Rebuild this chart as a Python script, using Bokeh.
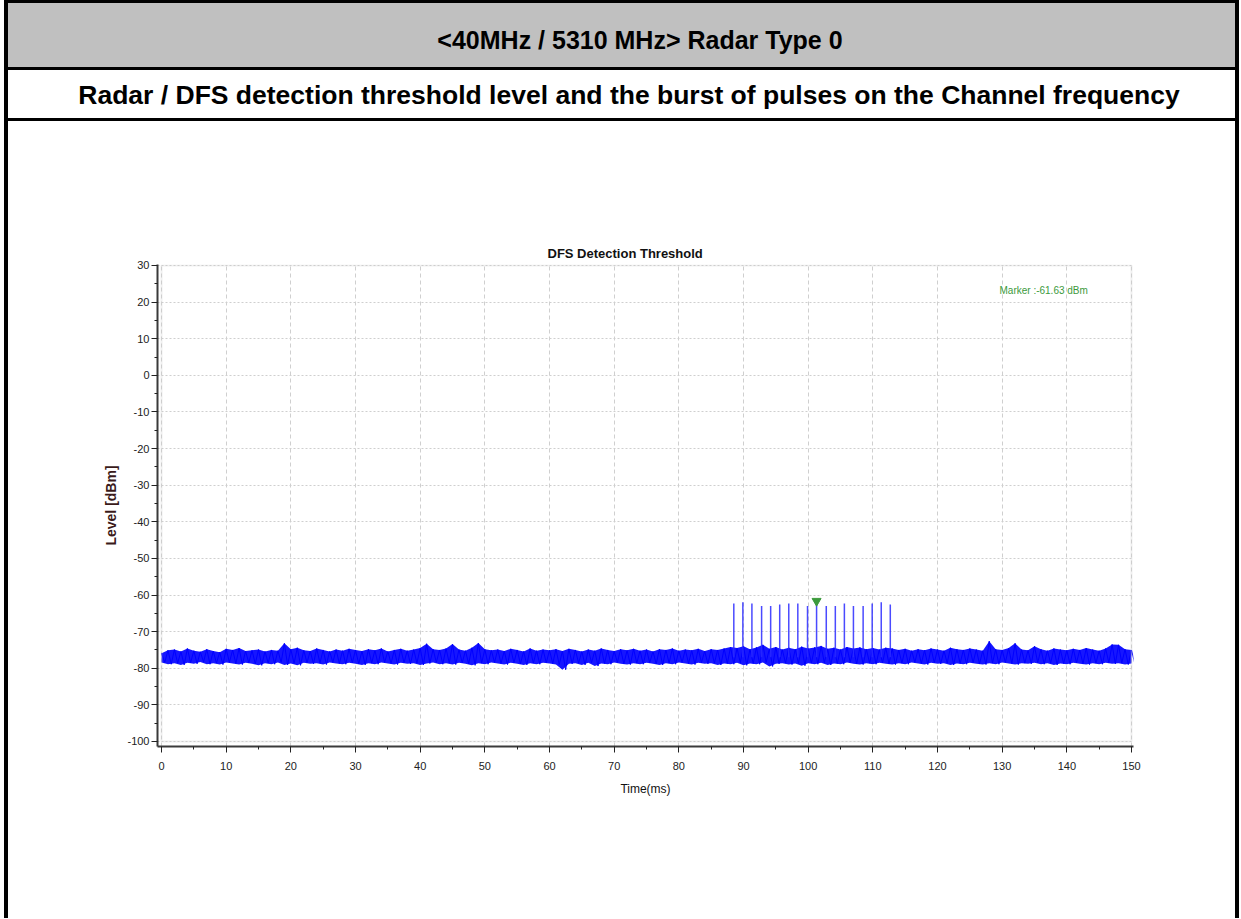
import html
from bokeh.plotting import figure
from bokeh.models import Label, FixedTicker, Range1d, ColumnDataSource, Div, BoxAnnotation
from bokeh.layouts import column, row
from bokeh.embed import file_html
from bokeh.resources import INLINE

# ---------------- data ----------------
header_title = "<40MHz / 5310 MHz> Radar Type 0"
row_title = "Radar / DFS detection threshold level and the burst of pulses on the Channel frequency"
chart_title = "DFS Detection Threshold"
x_label = "Time(ms)"
y_label = "Level [dBm]"
x_ticks = [0, 10, 20, 30, 40, 50, 60, 70, 80, 90, 100, 110, 120, 130, 140, 150]
y_ticks = [30, 20, 10, 0, -10, -20, -30, -40, -50, -60, -70, -80, -90, -100]

noise_time = list(range(0, 151))
noise_high = [
    -75.9, -75.1, -74.9, -75.4, -74.6, -75.2, -75.5, -74.8, -75.3, -75.6,
    -74.7, -75.0, -74.5, -75.3, -75.1, -74.9, -75.4, -75.0, -75.2, -73.2,
    -74.8, -74.4, -75.1, -75.3, -74.6, -75.0, -75.4, -74.9, -75.2, -74.7,
    -75.0, -75.3, -74.8, -75.1, -74.6, -75.4, -75.0, -74.7, -75.2, -74.9,
    -74.5, -73.3, -74.8, -75.0, -74.6, -73.4, -74.9, -75.2, -74.4, -73.1,
    -74.8, -75.1, -74.9, -75.3, -74.7, -75.0, -75.4, -74.6, -75.2, -74.9,
    -75.1, -74.8, -75.3, -74.7, -75.0, -75.4, -74.9, -75.2, -74.6, -75.0,
    -75.3, -74.8, -75.1, -74.7, -75.2, -74.9, -75.4, -74.8, -75.0, -74.6,
    -75.2, -74.9, -75.1, -74.7, -75.3, -74.8, -75.0, -74.6, -74.2, -74.5,
    -74.0, -74.8, -74.3, -73.6, -74.7, -74.2, -74.9, -74.4, -74.8, -74.1,
    -74.6, -74.3, -73.9, -74.7, -74.4, -74.9, -74.2, -74.6, -74.3, -74.8,
    -74.5, -74.9, -74.4, -74.6, -75.0, -74.7, -75.2, -74.8, -75.1, -74.6,
    -74.9, -75.2, -74.4, -74.8, -75.0, -74.6, -74.9, -75.2, -72.6, -74.8,
    -75.0, -74.5, -73.2, -74.9, -75.1, -74.0, -74.8, -75.2, -74.6, -74.9,
    -75.1, -74.7, -75.0, -74.5, -74.9, -75.2, -74.6, -73.5, -73.6, -74.8,
    -75.0,
]
noise_low = [
    -78.4, -78.9, -78.6, -79.1, -78.5, -78.8, -78.3, -78.9, -78.6, -79.0,
    -78.4, -78.7, -79.0, -78.5, -78.8, -79.2, -78.6, -78.9, -78.4, -79.1,
    -78.7, -79.2, -78.5, -78.8, -78.6, -79.0, -78.4, -78.7, -78.9, -78.5,
    -78.8, -79.1, -78.6, -78.9, -78.4, -78.7, -79.0, -78.5, -78.8, -78.6,
    -79.1, -78.7, -78.4, -78.9, -78.6, -79.0, -78.5, -78.8, -79.2, -78.6,
    -78.9, -78.4, -78.7, -79.0, -78.5, -78.8, -79.1, -78.6, -78.9, -78.5,
    -78.7, -79.0, -80.4, -78.8, -78.6, -79.1, -78.5, -79.4, -78.7, -78.9,
    -78.4, -78.8, -79.0, -78.6, -78.9, -78.5, -78.8, -79.1, -78.6, -78.9,
    -78.4, -78.7, -79.0, -78.5, -78.8, -78.6, -79.1, -78.7, -78.9, -78.5,
    -79.2, -78.7, -78.9, -78.4, -79.5, -78.8, -78.6, -79.0, -78.7, -79.3,
    -78.6, -78.9, -78.5, -79.1, -78.7, -78.9, -78.4, -78.8, -79.0, -78.6,
    -78.9, -78.5, -78.8, -79.0, -78.6, -78.9, -78.4, -78.7, -79.0, -78.5,
    -78.8, -78.6, -79.1, -78.7, -78.9, -78.5, -78.8, -79.0, -78.6, -78.9,
    -78.4, -78.7, -79.0, -78.6, -78.8, -78.5, -78.9, -78.6, -79.1, -78.7,
    -78.9, -78.5, -78.8, -79.0, -78.6, -78.9, -78.5, -78.8, -78.6, -79.0,
    -78.7,
]

pulse_time = [88.5, 89.9, 91.3, 92.8, 94.2, 95.6, 97.0, 98.4, 99.9,
              101.3, 102.8, 104.2, 105.6, 107.0, 108.5, 109.9, 111.3, 112.7]
pulse_level = [-62.3, -62.0, -62.3, -63.0, -63.0, -62.6, -62.3, -62.3, -63.0,
               -61.63, -63.0, -63.0, -62.3, -63.0, -63.0, -62.3, -62.0, -62.6]
noise_floor = -77.0

marker_time = 101.3
marker_level = -61.63

# ---------------- page geometry ----------------
PAGE_W = 1241
HEAD_H = 121
FIG_H = 797
LEFT_W = 8
RIGHT_W = 6
FIG_W = PAGE_W - LEFT_W - RIGHT_W
SANS = "Liberation Sans"

head_html = f"""
<div style="position:relative;width:{PAGE_W}px;height:{HEAD_H}px;margin:0;padding:0;overflow:hidden;">
  <div style="position:absolute;left:0;top:0;width:{PAGE_W}px;height:{HEAD_H}px;background:#ffffff;"></div>
  <div style="position:absolute;left:4px;top:0;width:1235px;height:{HEAD_H}px;background:#000000;"></div>
  <div style="position:absolute;left:8px;top:3px;width:1227px;height:64px;background:#c0c0c0;"></div>
  <div style="position:absolute;left:8px;top:70px;width:1227px;height:48px;background:#ffffff;"></div>
  <div style="position:absolute;left:0;top:24px;width:1280px;height:32px;line-height:32px;text-align:center;
       font-family:'{SANS}';font-weight:bold;font-size:25px;color:#000000;white-space:nowrap;">{html.escape(header_title)}</div>
  <div style="position:absolute;left:0;top:79px;width:1258px;height:32px;line-height:32px;text-align:center;
       font-family:'{SANS}';font-weight:bold;font-size:26.5px;color:#000000;white-space:nowrap;">{html.escape(row_title)}</div>
</div>
"""
head = Div(text=head_html, width=PAGE_W, height=HEAD_H, margin=0)

left_html = f"""<div style="position:relative;width:{LEFT_W}px;height:{FIG_H}px;">
<div style="position:absolute;left:4px;top:0;width:4px;height:{FIG_H}px;background:#000000;"></div></div>"""
right_html = f"""<div style="position:relative;width:{RIGHT_W}px;height:{FIG_H}px;">
<div style="position:absolute;left:0;top:0;width:4px;height:{FIG_H}px;background:#000000;"></div></div>"""
left_border = Div(text=left_html, width=LEFT_W, height=FIG_H, margin=0)
right_border = Div(text=right_html, width=RIGHT_W, height=FIG_H, margin=0)

# ---------------- figure ----------------
p = figure(width=FIG_W, height=FIG_H,
           x_range=Range1d(-0.62, 150.31), y_range=Range1d(-101.37, 30.27),
           output_backend="svg", toolbar_location=None,
           min_border_left=149, min_border_right=102,
           min_border_top=143, min_border_bottom=172, margin=0)
p.outline_line_color = None
p.background_fill_color = "white"
p.border_fill_color = "white"

p.title.text = chart_title
p.title.text_font = SANS
p.title.text_font_style = "bold"
p.title.text_font_size = "13px"
p.title.text_color = "#111111"
p.title.align = "left"
p.title.offset = 390
p.title.standoff = 7

# axes
p.xaxis.ticker = FixedTicker(ticks=x_ticks, minor_ticks=list(range(5, 150, 10)))
p.yaxis.ticker = FixedTicker(ticks=y_ticks, minor_ticks=list(range(-95, 30, 10)))
p.xaxis.major_label_overrides = {t: str(t) for t in x_ticks}
p.yaxis.major_label_overrides = {t: str(t) for t in y_ticks}
for ax in (p.xaxis[0], p.yaxis[0]):
    ax.axis_line_color = "#3a3a3a"
    ax.axis_line_width = 2
    ax.major_tick_line_color = "#222222"
    ax.minor_tick_line_color = "#222222"
    ax.major_tick_in = 0
    ax.minor_tick_in = 0
    ax.major_tick_out = 6
    ax.minor_tick_out = 3
    ax.major_label_text_font = SANS
    ax.major_label_text_font_size = "11px"
    ax.major_label_text_color = "#222222"
p.xaxis.major_label_standoff = 9
p.yaxis.major_label_standoff = 2
p.xaxis.axis_label = x_label
p.xaxis.axis_label_text_font = SANS
p.xaxis.axis_label_text_font_style = "normal"
p.xaxis.axis_label_text_font_size = "12px"
p.xaxis.axis_label_text_color = "#111111"
p.xaxis.axis_label_standoff = 9
p.yaxis.axis_label = y_label
p.yaxis.axis_label_text_font = SANS
p.yaxis.axis_label_text_font_style = "bold"
p.yaxis.axis_label_text_font_size = "14px"
p.yaxis.axis_label_text_color = "#3a1a1a"
p.yaxis.axis_label_standoff = 5

# grid
p.xgrid.ticker = FixedTicker(ticks=x_ticks)
p.ygrid.ticker = FixedTicker(ticks=y_ticks)
p.xgrid.grid_line_color = "#cfcfcf"
p.xgrid.grid_line_dash = "4 3"
p.ygrid.grid_line_color = "#cfcfcf"
p.ygrid.grid_line_dash = "2 2"

# light grey border around data area
p.add_layout(BoxAnnotation(left=x_ticks[0], right=x_ticks[-1], bottom=y_ticks[-1], top=y_ticks[0],
                           fill_color=None, line_color="#cccccc", line_width=2))

# noise trace
xs, ys = [], []
for t, hi, lo in zip(noise_time, noise_high, noise_low):
    xs += [t, t + 0.5]
    ys += [hi, lo]
p.varea(x=noise_time, y1=noise_low, y2=noise_high, fill_color="#0a0aff", fill_alpha=0.95)
p.line(xs, ys, line_color="#0000ff", line_width=1.0)

# pulses
src = ColumnDataSource(dict(x=pulse_time, y0=[noise_floor] * len(pulse_time), y1=pulse_level))
p.segment(x0="x", y0="y0", x1="x", y1="y1", source=src, line_color="#2a2aff",
          line_width=1.5, line_alpha=0.85)

# marker
p.scatter([marker_time], [marker_level], marker="inverted_triangle", size=9,
          fill_color="#3c9a3c", line_color="#3c9a3c")
p.add_layout(Label(x=991, y=169, x_units="canvas", y_units="canvas",
                   text=f"Marker :{marker_level:.2f} dBm", text_color="#3c9a3c",
                   text_font=SANS, text_font_size="10px",
                   text_baseline="middle", text_align="left"))

layout = column(head, row(left_border, p, right_border, spacing=0, margin=0), spacing=0, margin=0)

open("out.html", "w").write(file_html(layout, INLINE))
